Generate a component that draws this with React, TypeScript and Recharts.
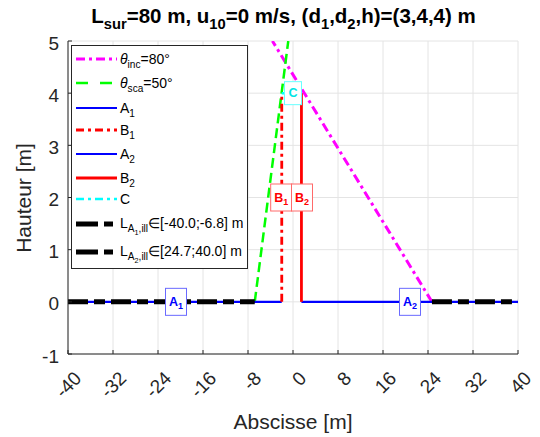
import React from 'react';
import { LineChart, Line, XAxis, YAxis, CartesianGrid, ReferenceDot } from 'recharts';

// axis ticks
const xTicks = [-40, -32, -24, -16, -8, 0, 8, 16, 24, 32, 40];
const yTicks = [-1, 0, 1, 2, 3, 4, 5];

// rays and segments
const incX = [24.7, -3.66];
const incY = [0, 5];
const scaX = [-6.8, -0.84];
const scaY = [0, 5];
const a1X = [-40, -2];
const a1Y = [0, 0];
const b1X = [-2, -2];
const b1Y = [0, 4];
const a2X = [1.5, 40];
const a2Y = [0, 0];
const b2X = [1.5, 1.5];
const b2Y = [0, 4];
const cX = [-2, 1.5];
const cY = [4, 4];
const la1X = [-40, -6.8];
const la1Y = [0, 0];
const la2X = [24.7, 40];
const la2Y = [0, 0];

// boxed labels on the plot
const boxNames = ['A', 'A', 'B', 'B', 'C'];
const boxSubs = ['1', '2', '1', '2', ''];
const boxX = [-20.8, 20.8, -2.1, 1.6, 0];
const boxY = [0, 0, 2, 2, 4];

const FONT = '"Liberation Sans", Arial, Helvetica, sans-serif';
const AXIS = '#262626';
const PLOT_LEFT = 68;
const PLOT_BOTTOM = 354;

const toPts = (xs: number[], ys: number[]) => xs.map((x, i) => ({ x, y: ys[i] }));

const series = [
  { key: 'inc', pts: toPts(incX, incY), color: '#ff00ff', dash: '9 4 3 4', w: 3 },
  { key: 'sca', pts: toPts(scaX, scaY), color: '#00ff00', dash: '10 5', w: 2.5 },
  { key: 'a1', pts: toPts(a1X, a1Y), color: '#0000ff', dash: undefined, w: 2.2 },
  { key: 'b1', pts: toPts(b1X, b1Y), color: '#ff0000', dash: '8 4 3 4', w: 2.8 },
  { key: 'a2', pts: toPts(a2X, a2Y), color: '#0000ff', dash: undefined, w: 2.2 },
  { key: 'b2', pts: toPts(b2X, b2Y), color: '#ff0000', dash: undefined, w: 2.8 },
  { key: 'c', pts: toPts(cX, cY), color: '#00ffff', dash: '8 4 3 4', w: 2.5 },
];
const blackSeries = [
  { key: 'la1', pts: toPts(la1X, la1Y), color: '#000000', dash: '20 6 11 6', w: 5 },
  { key: 'la2', pts: toPts(la2X, la2Y), color: '#000000', dash: '20 6 11 6', w: 5 },
];

const subStyle: React.CSSProperties = { fontSize: '0.72em', verticalAlign: '-0.4em', lineHeight: 0 };

const legendLabels: React.ReactNode[] = [
  <span><i>θ</i><sub style={subStyle}>inc</sub>=80°</span>,
  <span><i>θ</i><sub style={subStyle}>sca</sub>=50°</span>,
  <span>A<sub style={subStyle}>1</sub></span>,
  <span>B<sub style={subStyle}>1</sub></span>,
  <span>A<sub style={subStyle}>2</sub></span>,
  <span>B<sub style={subStyle}>2</sub></span>,
  <span>C</span>,
  <span>L<sub style={subStyle}>A<sub style={subStyle}>1</sub>,ill</sub>∈[-40.0;-6.8] m</span>,
  <span>L<sub style={subStyle}>A<sub style={subStyle}>2</sub>,ill</sub>∈[24.7;40.0] m</span>,
];
const legendRowY = [13, 37, 62, 84, 108, 132, 153, 178, 206];

const boxColors: Record<string, { text: string; edge: string }> = {
  A: { text: '#0000ff', edge: '#6a6aff' },
  B: { text: '#ff0000', edge: '#ff6a6a' },
  C: { text: '#00e5e5', edge: '#66ffff' },
};

function LabelBox(props: any) {
  const { cx, cy, name, sub } = props;
  const w = sub ? 21 : 17;
  const h = sub ? 27 : 23;
  const c = boxColors[name];
  return (
    <g>
      <rect x={cx - w / 2} y={cy - h / 2} width={w} height={h} fill="#ffffff" stroke={c.edge} strokeWidth={1} />
      <text x={cx} y={cy} textAnchor="middle" dominantBaseline="central" fill={c.text} fontWeight="bold" fontSize={12.5} fontFamily={FONT}>
        {name}
        {sub ? <tspan dy={4} fontSize={9}>{sub}</tspan> : null}
      </text>
    </g>
  );
}

function XTick(props: any) {
  const { x, payload } = props;
  return (
    <g>
      <line x1={x} y1={PLOT_BOTTOM} x2={x} y2={PLOT_BOTTOM - 4} stroke={AXIS} />
      <text transform={`translate(${x + 10},${PLOT_BOTTOM + 21}) rotate(-45)`} textAnchor="end" dominantBaseline="central" fontSize={19} fill={AXIS} fontFamily={FONT}>
        {payload.value}
      </text>
    </g>
  );
}

function YTick(props: any) {
  const { y, payload } = props;
  return (
    <g>
      <line x1={PLOT_LEFT} y1={y} x2={PLOT_LEFT + 4} y2={y} stroke={AXIS} />
      <text x={PLOT_LEFT - 9} y={y + 2} textAnchor="end" dominantBaseline="central" fontSize={19} fill={AXIS} fontFamily={FONT}>
        {payload.value}
      </text>
    </g>
  );
}

export default function App() {
  return (
    <div style={{ position: 'absolute', left: 0, top: 0, width: 540, height: 437, background: '#fff', fontFamily: FONT }}>
      <LineChart width={540} height={437} margin={{ top: 41, right: 22, left: 0, bottom: 0 }}>
        <CartesianGrid stroke="#e4e4e4" />
        <XAxis type="number" dataKey="x" domain={[-40, 40]} ticks={xTicks} allowDataOverflow height={83}
          axisLine={{ stroke: AXIS }} tickLine={false} tick={<XTick />} interval={0} />
        <YAxis type="number" dataKey="y" domain={[-1, 5]} ticks={yTicks} allowDataOverflow width={68}
          axisLine={{ stroke: AXIS }} tickLine={false} tick={<YTick />} interval={0} />
        {series.map((s) => (
          <Line key={s.key} data={s.pts} dataKey="y" type="linear" stroke={s.color} strokeWidth={s.w}
            strokeDasharray={s.dash} dot={false} activeDot={false} isAnimationActive={false} />
        ))}
        {boxNames.map((n, i) => (
          <ReferenceDot key={'box' + i} x={boxX[i]} y={boxY[i]} r={1}
            shape={(p: any) => <LabelBox cx={p.cx} cy={p.cy} name={n} sub={boxSubs[i]} />} />
        ))}
        {blackSeries.map((s) => (
          <Line key={s.key} data={s.pts} dataKey="y" type="linear" stroke={s.color} strokeWidth={s.w}
            strokeDasharray={s.dash} dot={false} activeDot={false} isAnimationActive={false} />
        ))}
      </LineChart>

      <div style={{ position: 'absolute', left: 0, top: 4, width: 567, textAlign: 'center', fontWeight: 'bold', fontSize: 20.5, lineHeight: '24px', color: '#000', whiteSpace: 'nowrap' }}>
        L<sub style={subStyle}>sur</sub>=80 m, u<sub style={subStyle}>10</sub>=0 m/s, (d<sub style={subStyle}>1</sub>,d<sub style={subStyle}>2</sub>,h)=(3,4,4) m
      </div>

      <div style={{ position: 'absolute', left: 193, top: 409, width: 200, textAlign: 'center', fontSize: 21, lineHeight: '26px', color: AXIS }}>
        Abscisse [m]
      </div>
      <div style={{ position: 'absolute', left: 24 - 100, top: 198 - 13, width: 200, textAlign: 'center', fontSize: 21, lineHeight: '26px', color: AXIS, transform: 'rotate(-90deg)' }}>
        Hauteur [m]
      </div>

      <div style={{ position: 'absolute', left: 71, top: 45, width: 177, height: 224, boxSizing: 'border-box', border: `1px solid ${AXIS}`, background: '#fff' }}>
        {[...series, ...blackSeries].map((s, i) => (
          <div key={s.key} style={{ position: 'absolute', left: 0, top: legendRowY[i] - 10, height: 20, width: 177, display: 'flex', alignItems: 'center' }}>
            <svg width={48} height={20} style={{ flex: 'none' }}>
              <line x1={4} y1={10} x2={45} y2={10} stroke={s.color} strokeWidth={s.w} strokeDasharray={s.key === 'sca' ? '12 12' : s.key.startsWith('la') ? '22 6 9 6' : s.dash} />
            </svg>
            <span style={{ fontSize: 14, color: '#000', whiteSpace: 'nowrap', lineHeight: '14px' }}>{legendLabels[i]}</span>
          </div>
        ))}
      </div>
    </div>
  );
}
